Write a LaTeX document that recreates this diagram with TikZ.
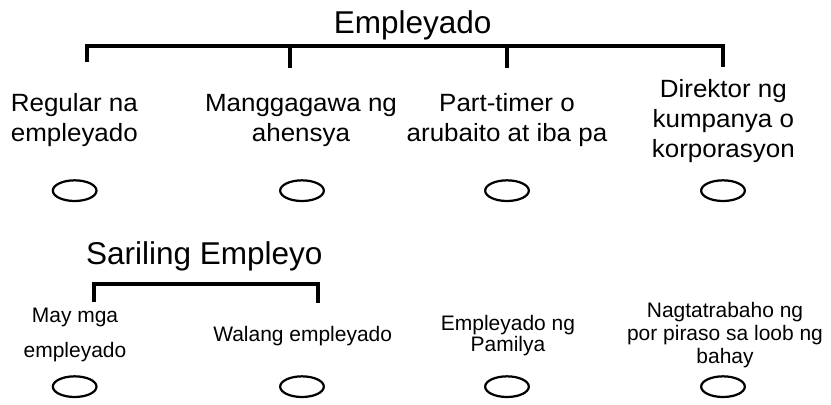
\documentclass[tikz,border=0pt]{standalone}
\usepackage{fontspec}
\setmainfont{Liberation Sans}
\newfontfamily\kindfont[FakeStretch=1.04]{Liberation Sans}
\usetikzlibrary{shapes.geometric, calc}

\begin{document}
\begin{tikzpicture}[
        bracket/.style={line width=4.2pt, line join=miter},
        heading/.style={anchor=base, inner sep=0pt, font=\fontsize{26.9}{30}\selectfont},
        biglabel/.style={anchor=base, inner sep=0pt, align=center, font=\kindfont\fontsize{21.3}{25.6}\selectfont},
        smalllabel/.style={anchor=base, inner sep=0pt, align=center},
        choice/.style={draw, ellipse, line width=1.9pt, inner sep=0pt, minimum width=1.31cm, minimum height=0.62cm}
    ]
        \useasboundingbox (0,0) rectangle (24.93,12.15);

        % Employee heading
        \node[heading] (empleyado) at (12.38,11.15) {Empleyado};

        % Employee bracket
        \coordinate (e1) at (2.61,10.77);
        \coordinate (e2) at (8.70,10.77);
        \coordinate (e3) at (15.21,10.77);
        \coordinate (e4) at (21.69,10.77);
        \draw[bracket] ($(e1)+(0,-0.48)$) -- (e1) -- (e4) -- ($(e4)+(0,-0.63)$);
        \draw[bracket] (e2) -- ++(0,-0.66);
        \draw[bracket] (e3) -- ++(0,-0.66);

        % Employee kinds (placed by the baseline of the last line)
        \node[biglabel] (regular) at (2.23,7.90) {Regular na\\empleyado};
        \node[biglabel] (ahensya) at (9.03,7.90) {Manggagawa ng\\ahensya};
        \node[biglabel] (parttimer) at (15.21,7.90) {Part-timer o\\arubaito at iba pa};
        \node[biglabel] (direktor) at (21.70,7.43) {Direktor ng\\kumpanya o\\korporasyon};

        % Answer ovals, first row
        \node[choice] (regularbox) at (2.24,6.43) {};
        \node[choice] (ahensyabox) at (9.06,6.43) {};
        \node[choice] (parttimerbox) at (15.21,6.43) {};
        \node[choice] (direktorbox) at (21.69,6.43) {};

        % Self-employed heading
        \node[heading] (sariling) at (6.13,4.20) {Sariling Empleyo};

        % Self-employed bracket
        \coordinate (s1) at (2.82,3.63);
        \coordinate (s2) at (9.54,3.63);
        \draw[bracket] ($(s1)+(0,-0.54)$) -- (s1) -- (s2) -- ($(s2)+(0,-0.57)$);

        % Other kinds
        \node[smalllabel, font=\fontsize{17.9}{29.9}\selectfont] (maymga) at (2.25,1.41) {May mga\\empleyado};
        \node[smalllabel, font=\fontsize{17.9}{20}\selectfont] (walang) at (9.08,1.89) {Walang empleyado};
        \node[smalllabel, font=\fontsize{17.9}{18.2}\selectfont] (pamilya) at (15.24,1.60) {Empleyado ng\\Pamilya};
        \node[smalllabel, font=\fontsize{17.9}{20}\selectfont] (piraso) at (21.75,1.23) {Nagtatrabaho ng\\por piraso sa loob ng\\bahay};

        % Answer ovals, second row
        \node[choice] (maymgabox) at (2.24,0.55) {};
        \node[choice] (walangbox) at (9.06,0.55) {};
        \node[choice] (pamilyabox) at (15.21,0.55) {};
        \node[choice] (pirasobox) at (21.69,0.55) {};
\end{tikzpicture}
\end{document}
